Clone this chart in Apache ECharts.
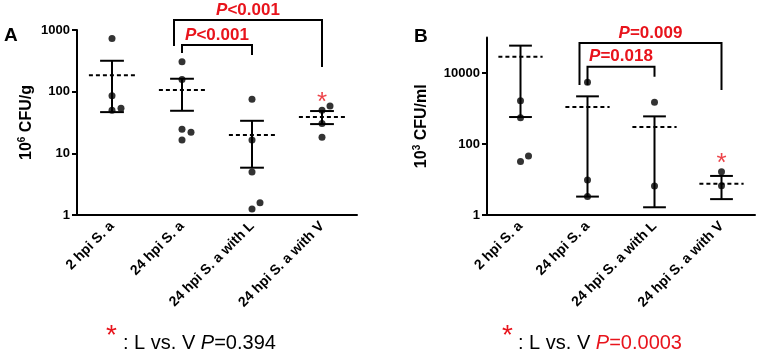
<!DOCTYPE html>
<html>
<head>
<meta charset="utf-8">
<script src="https://cdn.jsdelivr.net/npm/echarts@6/dist/echarts.min.js"></script>
<style>
html, body { margin: 0; padding: 0; background: #fff; }
#chart { width: 760px; height: 355px; }
</style>
</head>
<body>
<div id="chart"></div>
<script>
var cats = ['2 hpi S. a', '24 hpi S. a', '24 hpi S. a with L', '24 hpi S. a with V'];

// panel A : 10^6 CFU/g
var ptsA  = [[731, 86, 50, 54], [305, 158, 24.5, 22, 16.4], [75, 16.4, 5.0, 1.25, 1.58], [50, 58.5, 30.6, 18.2]];
var meanA = [184, 106, 19.8, 39];
var loA   = [46.6, 49, 5.85, 29.8];
var hiA   = [317, 162, 33.7, 48.5];
var ticksA = [1, 10, 100, 1000];
// brackets: from group, to group, left end, top, right end
var brA   = [[1, 2, 422, 569, 392], [1, 3, 548, 1446, 251]];
var pA    = ['<0.001', '<0.001'];
var starA = 66;

// panel B : 10^3 CFU/ml
var ptsB  = [[1660, 550, 32, 46], [5470, 9.7, 3.3], [1490, 6.6], [16.6, 6.7]];
var meanB = [28800, 1100, 302, 7.6];
var loB   = [575, 3.3, 1.65, 2.8];
var hiB   = [59000, 2200, 600, 12.6];
var ticksB = [1, 100, 10000];
var brB   = [[1, 2, 4590, 15000, 7870], [1, 3, 4590, 70000, 3310]];
var pB    = ['=0.018', '=0.009'];
var starB = 28;

// little sideways shifts of overlapping dots (px), and bracket left-leg shifts
var jitA = [[0, 0, 0, 9], [0, 0, 0, 9, 0], [0, 0, 0, 0, 8], [0, 8, 0, 0]];
var jitB = [[0, 0, 0, 8], [0, 0, 0], [0, 0], [0, 0]];
var brShift = [0, -8];

var RED = '#e8141c';
var FONT = 'Liberation Sans, Arial, sans-serif';

var myChart = echarts.init(document.getElementById('chart'));

function pointData(pts, jit) {
    var out = [];
    pts.forEach(function (g, i) {
        g.forEach(function (v, j) {
            out.push({ value: [i, v], symbolOffset: [jit[i][j], 0] });
        });
    });
    return out;
}

function renderErr(params, api) {
    var c = api.value(0);
    var m = api.coord([c, api.value(1)]);
    var l = api.coord([c, api.value(2)]);
    var h = api.coord([c, api.value(3)]);
    var bw = api.size([1, 1])[0];
    var dh = bw * 0.33, ch = bw * 0.17;
    var st = { stroke: '#000', lineWidth: 2, fill: 'none' };
    return {
        type: 'group',
        children: [
            { type: 'line', shape: { x1: m[0] - dh, y1: m[1], x2: m[0] + dh, y2: m[1] }, style: { stroke: '#000', lineWidth: 2, lineDash: [4, 3] } },
            { type: 'line', shape: { x1: m[0], y1: l[1], x2: m[0], y2: h[1] }, style: st },
            { type: 'line', shape: { x1: m[0] - ch, y1: l[1], x2: m[0] + ch, y2: l[1] }, style: st },
            { type: 'line', shape: { x1: m[0] - ch, y1: h[1], x2: m[0] + ch, y2: h[1] }, style: st }
        ]
    };
}

function makeBracket(labels) {
    return function (params, api) {
        var i = params.dataIndex;
        var a = api.coord([api.value(0), api.value(2)]);
        var b = api.coord([api.value(1), api.value(4)]);
        var top = api.coord([api.value(0), api.value(3)])[1];
        var ax = a[0] + brShift[i];
        return {
            type: 'group',
            children: [
                { type: 'polyline', shape: { points: [[ax, a[1]], [ax, top], [b[0], top], [b[0], b[1]]] },
                  style: { stroke: '#000', lineWidth: 2, fill: 'none' } },
                { type: 'text', x: (ax + b[0]) / 2, y: top - 10,
                  style: { text: '{i|P}{n|' + labels[i] + '}', align: 'center', verticalAlign: 'middle',
                    rich: {
                        i: { fill: RED, fontSize: 17, fontWeight: 'bold', fontStyle: 'italic', fontFamily: FONT },
                        n: { fill: RED, fontSize: 17, fontWeight: 'bold', fontFamily: FONT }
                    } } }
            ]
        };
    };
}

function errData(mean, lo, hi) {
    return mean.map(function (m, i) { return [i, m, lo[i], hi[i]]; });
}

function xAxisOpt(gi) {
    return {
        type: 'category', gridIndex: gi, data: cats, boundaryGap: true,
        axisLine: { lineStyle: { color: '#000', width: 2 } },
        axisTick: { alignWithLabel: true, length: 5, lineStyle: { color: '#000', width: 2 } },
        axisLabel: { rotate: 45, interval: 0, color: '#000', fontWeight: 'bold', fontSize: 14, fontFamily: FONT, margin: 9 },
        splitLine: { show: false }
    };
}

function yAxisOpt(gi, max, ticks, unitExp, unit, gap) {
    return {
        type: 'log', logBase: 10, gridIndex: gi, min: 1, max: max,
        name: '{n|10}{s|' + unitExp + '}{n| ' + unit + '}',
        nameLocation: 'middle', nameRotate: 90, nameGap: gap,
        nameTextStyle: { rich: {
            n: { fontSize: 16, fontWeight: 'bold', color: '#000', fontFamily: FONT, lineHeight: 20 },
            s: { fontSize: 10, fontWeight: 'bold', color: '#000', fontFamily: FONT, verticalAlign: 'top' }
        } },
        axisLine: { show: true, lineStyle: { color: '#000', width: 2 } },
        axisTick: { show: true, length: 5, lineStyle: { color: '#000', width: 2 }, customValues: ticks },
        axisLabel: { color: '#000', fontWeight: 'bold', fontSize: 13, fontFamily: FONT, margin: 7, customValues: ticks,
                     formatter: function (v) { return String(v); } },
        minorTick: { show: false },
        splitLine: { show: false }
    };
}

function panelSeries(gi, pts, jit, mean, lo, hi, br, labels, star) {
    return [
        { type: 'scatter', xAxisIndex: gi, yAxisIndex: gi, symbolSize: 7,
          itemStyle: { color: '#000' }, data: pointData(pts, jit), z: 3 },
        { type: 'custom', xAxisIndex: gi, yAxisIndex: gi, renderItem: renderErr,
          encode: { x: 0, y: [1, 2, 3] }, data: errData(mean, lo, hi), z: 2 },
        { type: 'custom', xAxisIndex: gi, yAxisIndex: gi, renderItem: makeBracket(labels),
          encode: { x: [0, 1] }, data: br, clip: false, z: 2 },
        { type: 'scatter', xAxisIndex: gi, yAxisIndex: gi, symbolSize: 1, itemStyle: { color: 'rgba(0,0,0,0)' },
          label: { show: true, position: 'inside', formatter: '*', color: RED, fontSize: 26, fontFamily: FONT },
          data: [[3, star]] }
    ];
}

option = {
    animation: false,
    textStyle: { fontFamily: FONT },
    grid: [
        { left: 77, top: 30, width: 280, height: 185 },
        { left: 487, top: 37.5, width: 268, height: 177.5 }
    ],
    xAxis: [xAxisOpt(0), xAxisOpt(1)],
    yAxis: [yAxisOpt(0, 1000, ticksA, '6', 'CFU/g', 40), yAxisOpt(1, 100000, ticksB, '3', 'CFU/ml', 55)],
    series: panelSeries(0, ptsA, jitA, meanA, loA, hiA, brA, pA, starA)
        .concat(panelSeries(1, ptsB, jitB, meanB, loB, hiB, brB, pB, starB)),
    graphic: [
        { type: 'text', left: 4, top: 26, style: { text: 'A', fontSize: 19, fontWeight: 'bold', fill: '#000', fontFamily: FONT } },
        { type: 'text', left: 414, top: 27, style: { text: 'B', fontSize: 19, fontWeight: 'bold', fill: '#000', fontFamily: FONT } },
        { type: 'text', left: 106, top: 322, style: { text: '*', fontSize: 28, fill: RED, fontFamily: FONT } },
        { type: 'text', left: 123, top: 333, style: {
            text: '{k|: L vs. V }{i|P}{k|=0.394}',
            rich: { k: { fontSize: 20, fill: '#000', fontFamily: FONT }, i: { fontSize: 20, fill: '#000', fontStyle: 'italic', fontFamily: FONT } } } },
        { type: 'text', left: 502, top: 322, style: { text: '*', fontSize: 28, fill: RED, fontFamily: FONT } },
        { type: 'text', left: 518, top: 333, style: {
            text: '{k|: L vs. V }{i|P}{r|=0.0003}',
            rich: { k: { fontSize: 20, fill: '#000', fontFamily: FONT }, i: { fontSize: 20, fill: RED, fontStyle: 'italic', fontFamily: FONT },
                    r: { fontSize: 20, fill: RED, fontFamily: FONT } } } }
    ]
};

myChart.setOption(option);
</script>
</body>
</html>
